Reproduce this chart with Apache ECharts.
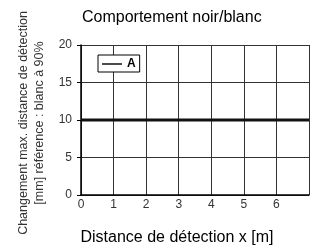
<!DOCTYPE html>
<html>
<head>
<meta charset="utf-8">
<script src="https://cdn.jsdelivr.net/npm/echarts@6/dist/echarts.min.js"></script>
</head>
<body style="margin:0">
	<div id="main" style="width: 312px; height: 251px;"></div>
	<script type="text/javascript">
		// data
		var seriesNames = ['A'];
		var distanceX = [0, 7];
		var valuesA = [10, 10];
		var xTicks = [0, 1, 2, 3, 4, 5, 6, 7];
		var yTicks = [0, 5, 10, 15, 20];

		var font = '"Liberation Sans", Arial, sans-serif';
		var myChart = echarts.init(document.getElementById('main'));

		var points = [];
		for (var i = 0; i < distanceX.length; i++) {
			points.push([distanceX[i], valuesA[i]]);
		}

		var gridLine = { show: true, lineStyle: { color: '#333', width: 1, type: 'solid' } };

		var option = {
			animation: false,
			backgroundColor: '#fff',
			textStyle: { fontFamily: font },
			title: {
				text: 'Comportement noir/blanc',
				left: 77,
				top: 5,
				textStyle: { fontFamily: font, fontSize: 16, fontWeight: 'normal', color: '#000' }
			},
			legend: {
				data: [{ name: seriesNames[0] }],
				icon: 'rect',
				left: 98,
				top: 55,
				orient: 'vertical',
				backgroundColor: '#fff',
				borderColor: '#000',
				borderWidth: 1,
				borderRadius: 0,
				padding: [3, 4, 2, 4],
				itemWidth: 20,
				itemHeight: 1.5,
				itemGap: 0,
				textStyle: { fontFamily: font, fontSize: 12, fontWeight: 'bold', color: '#000' }
			},
			grid: { left: 81, right: -6, top: 45, bottom: 50, containLabel: false },
			xAxis: {
				type: 'value',
				min: xTicks[0],
				max: xTicks[xTicks.length - 1],
				interval: 1,
				name: 'Distance de détection x [m]',
				nameLocation: 'middle',
				nameGap: 35,
				nameTextStyle: { fontFamily: font, fontSize: 16, color: '#000', padding: [0, 36, 0, 0] },
				axisLine: { show: true, lineStyle: { color: '#000', width: 1.5 } },
				axisTick: { show: false },
				axisLabel: {
					fontFamily: font, fontSize: 12, color: '#333', margin: 4,
					formatter: function (v) { return v === 7 ? '' : v; }
				},
				splitLine: gridLine
			},
			yAxis: {
				type: 'value',
				min: yTicks[0],
				max: yTicks[yTicks.length - 1],
				interval: 5,
				name: 'Changement max. distance de détection\n[mm] référence : blanc à 90%',
				nameLocation: 'middle',
				nameGap: 32,
				nameRotate: 90,
				nameTextStyle: { fontFamily: font, fontSize: 12.5, color: '#333', lineHeight: 16, padding: [0, 6, 0, 0] },
				axisLine: { show: true, lineStyle: { color: '#000', width: 1.5 } },
				axisTick: { show: true, length: 4, lineStyle: { color: '#000' } },
				axisLabel: { fontFamily: font, fontSize: 12, color: '#333', margin: 9 },
				splitLine: gridLine
			},
			series: [{
				name: seriesNames[0],
				type: 'line',
				symbol: 'none',
				data: points,
				lineStyle: { color: '#111', width: 3 },
				itemStyle: { color: '#111' }
			}]
		};

		myChart.setOption(option);
	</script>
</body>
</html>
